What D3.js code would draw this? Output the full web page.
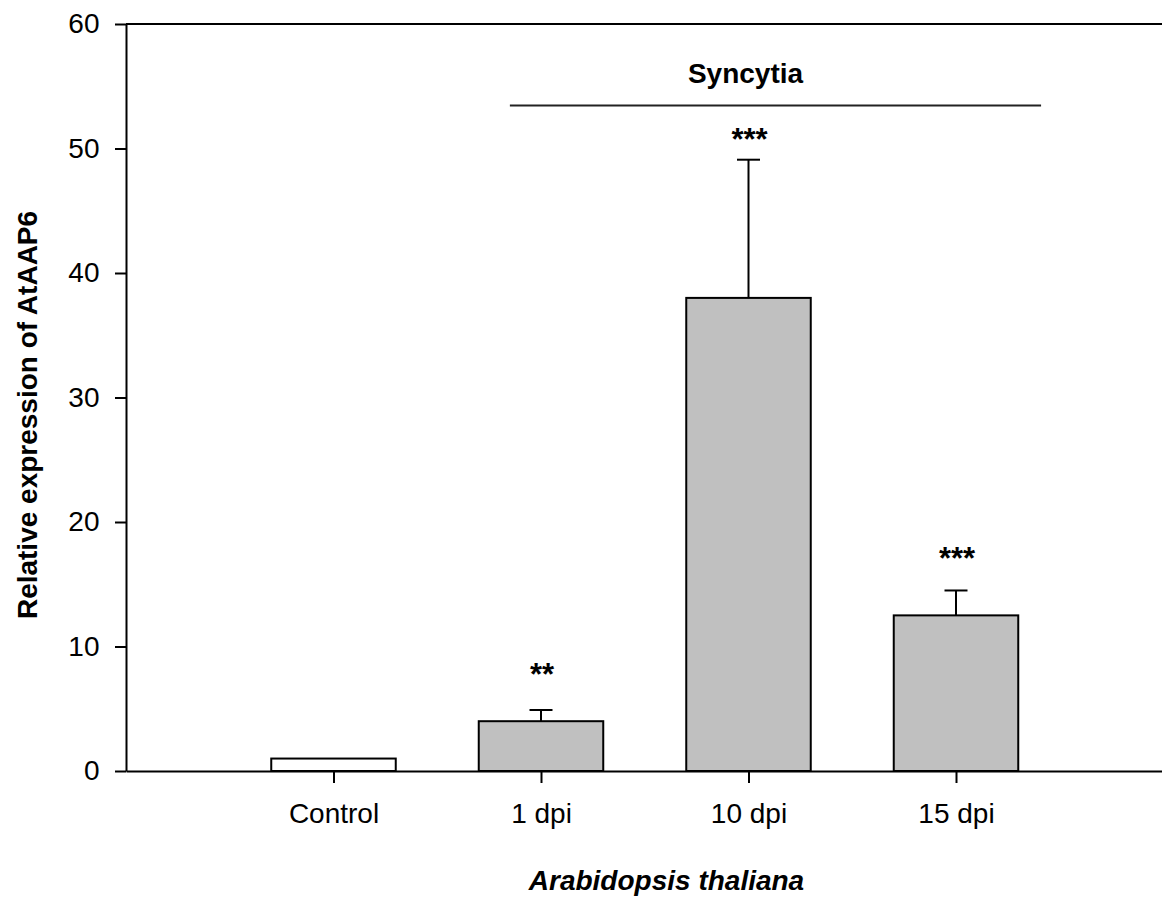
<!DOCTYPE html>
<html>
<head>
<meta charset="utf-8">
<script src="https://cdn.jsdelivr.net/npm/d3@7"></script>
<style>
  html, body { margin: 0; padding: 0; background: #fff; }
  svg { display: block; }
  text { font-family: "Liberation Sans", Arial, sans-serif; fill: #000; }
</style>
</head>
<body>
<svg id="chart" width="1162" height="897"></svg>
<script>
// Relative expression of AtAAP6 in syncytia vs. control
const categories = ["Control", "1 dpi", "10 dpi", "15 dpi"];
const means = [1, 4, 38, 12.5];
const errors = [0, 0.9, 11.1, 2.0];
const significance = ["", "**", "***", "***"];
const significanceLevel = [null, 6.9, 49.9, 16.2];
const barFills = ["#ffffff", "#c0c0c0", "#c0c0c0", "#c0c0c0"];
const yTicks = [0, 10, 20, 30, 40, 50, 60];

const svg = d3.select("#chart");
const plotLeft = 126, plotRight = 1163.5, plotTop = 24, plotBottom = 771;

const x = d3.scalePoint().domain(categories).range([plotLeft, plotRight]).padding(1);
const y = d3.scaleLinear().domain([0, 60]).range([plotBottom, plotTop]);
const barW = x.step() * 0.6;

// frame top line
svg.append("line")
  .attr("x1", plotLeft).attr("x2", plotRight)
  .attr("y1", y(60)).attr("y2", y(60))
  .attr("stroke", "#000").attr("stroke-width", 2);

// bars
svg.append("g").selectAll("rect")
  .data(categories)
  .join("rect")
  .attr("x", d => x(d) - barW / 2)
  .attr("y", (d, i) => y(means[i]))
  .attr("width", barW)
  .attr("height", (d, i) => y(0) - y(means[i]))
  .attr("fill", (d, i) => barFills[i])
  .attr("stroke", "#000")
  .attr("stroke-width", 2);

// error bars (upper only)
const eb = svg.append("g").attr("stroke", "#000").attr("stroke-width", 2);
categories.forEach((c, i) => {
  if (!errors[i]) return;
  const cx = x(c);
  eb.append("line").attr("x1", cx).attr("x2", cx)
    .attr("y1", y(means[i])).attr("y2", y(means[i] + errors[i]));
  eb.append("line").attr("x1", cx - 11.5).attr("x2", cx + 11.5)
    .attr("y1", y(means[i] + errors[i])).attr("y2", y(means[i] + errors[i]));
});

// significance stars
svg.append("g").selectAll("text")
  .data(categories.map((c, i) => ({ c, i })).filter(d => significance[d.i] !== ""))
  .join("text")
  .attr("x", d => x(d.c) + 1)
  .attr("y", d => y(significanceLevel[d.i]))
  .attr("text-anchor", "middle")
  .style("font-size", "31px")
  .style("font-weight", "bold")
  .text(d => significance[d.i]);

// y axis
const yAxis = svg.append("g")
  .attr("transform", `translate(${plotLeft},0)`)
  .call(d3.axisLeft(y).tickValues(yTicks).tickSize(11).tickPadding(15.5).tickSizeOuter(0));
yAxis.select(".domain").attr("stroke-width", 2);
yAxis.selectAll(".tick line").attr("stroke-width", 2);
yAxis.selectAll(".tick text").style("font-size", "28px").attr("fill", "#000");

// x axis
const xAxis = svg.append("g")
  .attr("transform", `translate(0,${plotBottom})`)
  .call(d3.axisBottom(x).tickSize(12).tickPadding(20).tickSizeOuter(0));
xAxis.select(".domain").attr("stroke-width", 2);
xAxis.selectAll(".tick line").attr("stroke-width", 2);
xAxis.selectAll(".tick text").style("font-size", "28px").attr("fill", "#000");

// Syncytia bracket
const sx1 = x("1 dpi") - x.step() * 0.15;
const sx2 = x("15 dpi") + x.step() * 0.41;
svg.append("line")
  .attr("x1", sx1).attr("x2", sx2)
  .attr("y1", 105.5).attr("y2", 105.5)
  .attr("stroke", "#222").attr("stroke-width", 2);
svg.append("text")
  .attr("x", 745.5).attr("y", 83)
  .attr("text-anchor", "middle")
  .style("font-size", "28px").style("font-weight", "bold")
  .text("Syncytia");

// axis titles
svg.append("text")
  .attr("transform", "translate(37,415) rotate(-90)")
  .attr("text-anchor", "middle")
  .style("font-size", "28px").style("font-weight", "bold")
  .text("Relative expression of AtAAP6");

svg.append("text")
  .attr("x", 666.5).attr("y", 890)
  .attr("text-anchor", "middle")
  .style("font-size", "28px").style("font-weight", "bold").style("font-style", "italic")
  .text("Arabidopsis thaliana");
</script>
</body>
</html>
